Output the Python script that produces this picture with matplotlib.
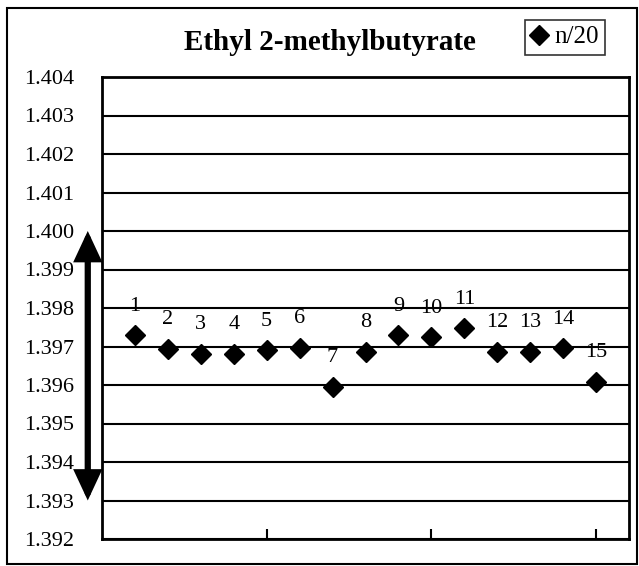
import matplotlib
matplotlib.use("Agg")
import matplotlib.pyplot as plt
import matplotlib.transforms as mtransforms
from matplotlib.patches import Rectangle

plt.rcParams['font.family'] = ['Liberation Serif', 'DejaVu Serif']

# sample number and refractive index n/20
sample_no = list(range(1, 16))
n20 = [1.3973, 1.39694, 1.39681, 1.39681, 1.39691, 1.39697, 1.39596, 1.39686,
       1.3973, 1.39724, 1.39747, 1.39687, 1.39686, 1.39695, 1.39608]
y_ticks = [1.392, 1.393, 1.394, 1.395, 1.396, 1.397, 1.398, 1.399, 1.400,
           1.401, 1.402, 1.403, 1.404]
arrow_range = (1.400, 1.393)
title = 'Ethyl 2-methylbutyrate'
series_name = 'n/20'

fig = plt.figure(figsize=(6.39, 5.66), dpi=100)
ax = fig.add_axes([102/639, 1 - 539/566, 527/639, 462/566])

ax.plot(sample_no, n20, linestyle='none', marker='D', markersize=10,
        color='black', label=series_name, zorder=3)
for x, y in zip(sample_no, n20):
    ax.annotate(str(x), (x, y), xytext=(0, 14), textcoords='offset points',
                ha='center', va='bottom', fontsize=16)

ax.set_xlim(0, 16)
ax.set_ylim(1.392, 1.404)
ax.set_yticks(y_ticks)
ax.set_yticklabels([f'{v:.3f}' for v in y_ticks], fontsize=16)
ax.set_xticks([5, 10, 15])
ax.set_xticklabels([])
ax.tick_params(axis='x', direction='in', length=7, width=1.5)
ax.tick_params(axis='y', length=0, pad=20)
ax.yaxis.grid(True, color='black', linewidth=1.5)
ax.set_axisbelow(True)
for s in ax.spines.values():
    s.set_linewidth(2)

# double-headed arrow left of the axis
trans = mtransforms.blended_transform_factory(ax.transAxes, ax.transData)
ax.annotate('', xy=(-0.027, arrow_range[1]), xytext=(-0.027, arrow_range[0]),
            xycoords=trans, textcoords=trans, annotation_clip=False,
            arrowprops=dict(arrowstyle='<|-|>,head_length=1.5,head_width=0.7',
                            lw=4.5, color='black', shrinkA=0, shrinkB=0,
                            mutation_scale=10, joinstyle='miter'))

fig.text(330/639, 1 - 42/566, title, ha='center', va='center',
         fontsize=21, fontweight='bold')

leg = ax.legend(loc='center', bbox_to_anchor=(565/639, 1 - 37/566),
                bbox_transform=fig.transFigure, fontsize=18, frameon=True,
                fancybox=False, handlelength=0.6, handletextpad=0.3,
                borderpad=0.25, borderaxespad=0, markerscale=1.0)
leg.get_frame().set_edgecolor('black')
leg.get_frame().set_linewidth(1.2)

fig.patches.append(Rectangle((7/639, 2/566), 630/639, 556/566, transform=fig.transFigure,
                             fill=False, edgecolor='black', linewidth=1.5))

fig.savefig('out.png', dpi=100)
